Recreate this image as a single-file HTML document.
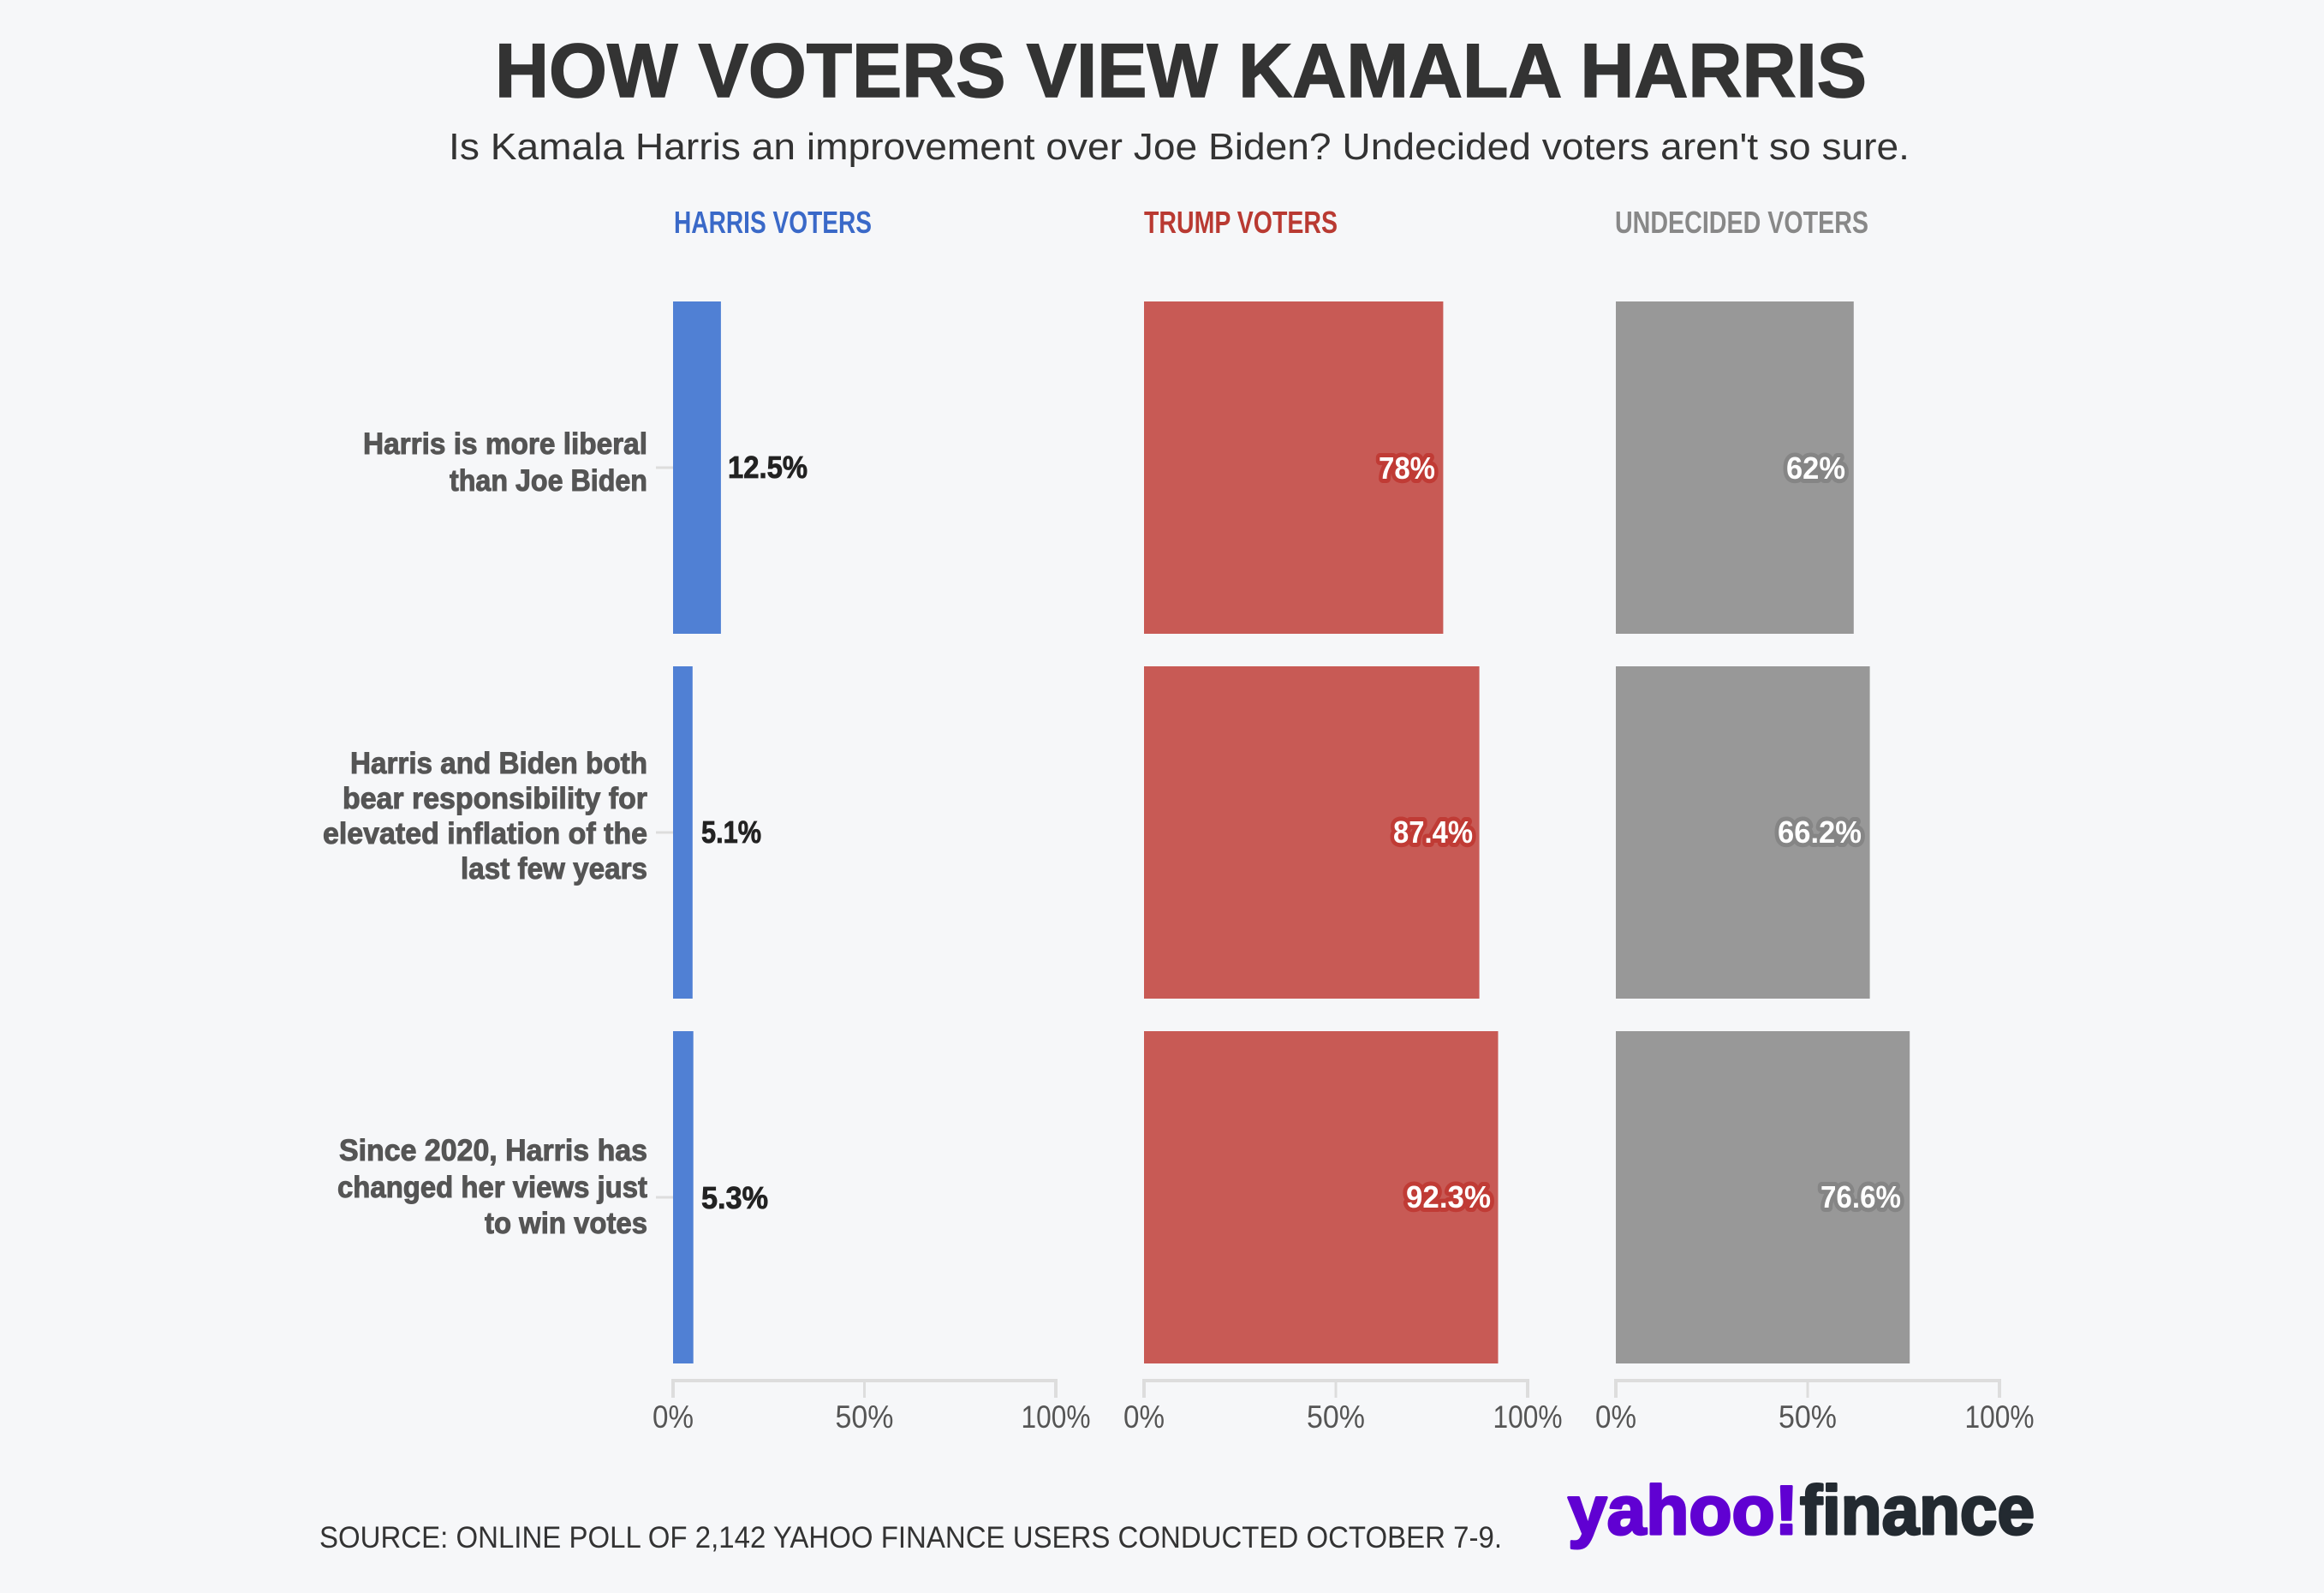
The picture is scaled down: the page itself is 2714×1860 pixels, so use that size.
<!DOCTYPE html>
<html>
<head>
<meta charset="utf-8">
<style>
  html, body { margin: 0; padding: 0; background: #f6f7f9; }
  svg { display: block; }
  text { font-family: "Liberation Sans", "DejaVu Sans", sans-serif; }
</style>
</head>
<body>
<svg width="2714" height="1860" viewBox="0 0 2714 1860" xmlns="http://www.w3.org/2000/svg">
  <rect x="0" y="0" width="2714" height="1860" fill="#f6f7f9"/>

  <!-- Title -->
  <text x="578" y="113" font-size="89" font-weight="bold" fill="#333333" stroke="#333333" stroke-width="1.5" textLength="1602" lengthAdjust="spacingAndGlyphs">HOW VOTERS VIEW KAMALA HARRIS</text>
  <text x="524" y="186" font-size="44" fill="#333333" textLength="1706" lengthAdjust="spacingAndGlyphs">Is Kamala Harris an improvement over Joe Biden? Undecided voters aren't so sure.</text>

  <!-- Column headers -->
  <text x="787" y="272" font-size="36" font-weight="bold" fill="#3a69c8" textLength="231" lengthAdjust="spacingAndGlyphs">HARRIS VOTERS</text>
  <text x="1336" y="272" font-size="36" font-weight="bold" fill="#b93a32" textLength="226" lengthAdjust="spacingAndGlyphs">TRUMP VOTERS</text>
  <text x="1886" y="272" font-size="36" font-weight="bold" fill="#888888" textLength="296" lengthAdjust="spacingAndGlyphs">UNDECIDED VOTERS</text>

  <!-- Category labels -->
  <g font-size="35" font-weight="bold" fill="#555555" stroke="#555555" stroke-width="1">
    <text x="424" y="530" textLength="332" lengthAdjust="spacingAndGlyphs">Harris is more liberal</text>
    <text x="525" y="573" textLength="231" lengthAdjust="spacingAndGlyphs">than Joe Biden</text>

    <text x="409" y="903" textLength="347" lengthAdjust="spacingAndGlyphs">Harris and Biden both</text>
    <text x="400" y="944" textLength="356" lengthAdjust="spacingAndGlyphs">bear responsibility for</text>
    <text x="377" y="985" textLength="379" lengthAdjust="spacingAndGlyphs">elevated inflation of the</text>
    <text x="538" y="1026" textLength="218" lengthAdjust="spacingAndGlyphs">last few years</text>

    <text x="396" y="1355" textLength="360" lengthAdjust="spacingAndGlyphs">Since 2020, Harris has</text>
    <text x="394" y="1398" textLength="362" lengthAdjust="spacingAndGlyphs">changed her views just</text>
    <text x="566" y="1440" textLength="190" lengthAdjust="spacingAndGlyphs">to win votes</text>
  </g>

  <!-- Category ticks -->
  <g stroke="#dddddd" stroke-width="3">
    <line x1="766" y1="546" x2="786" y2="546"/>
    <line x1="766" y1="972" x2="786" y2="972"/>
    <line x1="766" y1="1398" x2="786" y2="1398"/>
  </g>

  <!-- Harris bars -->
  <g fill="#5080d4">
    <rect x="786" y="352" width="55.9" height="388"/>
    <rect x="786" y="778" width="22.8" height="388"/>
    <rect x="786" y="1204" width="23.7" height="388"/>
  </g>
  <!-- Trump bars -->
  <g fill="#c85a55">
    <rect x="1336" y="352" width="349.4" height="388"/>
    <rect x="1336" y="778" width="391.6" height="388"/>
    <rect x="1336" y="1204" width="413.5" height="388"/>
  </g>
  <!-- Undecided bars -->
  <g fill="#989898">
    <rect x="1887" y="352" width="277.8" height="388"/>
    <rect x="1887" y="778" width="296.6" height="388"/>
    <rect x="1887" y="1204" width="343.2" height="388"/>
  </g>

  <!-- Harris value labels -->
  <g font-size="36" font-weight="bold" fill="#222222" stroke="#222222" stroke-width="0.8">
    <text x="850" y="558" textLength="93" lengthAdjust="spacingAndGlyphs">12.5%</text>
    <text x="819" y="984" textLength="70" lengthAdjust="spacingAndGlyphs">5.1%</text>
    <text x="819" y="1411" textLength="78" lengthAdjust="spacingAndGlyphs">5.3%</text>
  </g>

  <!-- Trump value labels (haloed) -->
  <g font-size="36" font-weight="bold" fill="#ffffff" stroke="#c03b35" stroke-width="10" stroke-linejoin="round" paint-order="stroke">
    <text x="1610" y="559" textLength="66" lengthAdjust="spacingAndGlyphs">78%</text>
    <text x="1627" y="984" textLength="93" lengthAdjust="spacingAndGlyphs">87.4%</text>
    <text x="1642" y="1410" textLength="99" lengthAdjust="spacingAndGlyphs">92.3%</text>
  </g>

  <!-- Undecided value labels (haloed) -->
  <g font-size="36" font-weight="bold" fill="#ffffff" stroke="#858585" stroke-width="10" stroke-linejoin="round" paint-order="stroke">
    <text x="2086" y="559" textLength="69" lengthAdjust="spacingAndGlyphs">62%</text>
    <text x="2076" y="984" textLength="98" lengthAdjust="spacingAndGlyphs">66.2%</text>
    <text x="2126" y="1410" textLength="94" lengthAdjust="spacingAndGlyphs">76.6%</text>
  </g>

  <!-- Axes -->
  <g fill="none" stroke="#dddddd">
    <path d="M786,1632 V1612 H1233 V1632" stroke-width="4"/>
    <line x1="1009.5" y1="1612" x2="1009.5" y2="1632" stroke-width="3"/>
    <path d="M1336,1632 V1612 H1784 V1632" stroke-width="4"/>
    <line x1="1560" y1="1612" x2="1560" y2="1632" stroke-width="3"/>
    <path d="M1887,1632 V1612 H2335 V1632" stroke-width="4"/>
    <line x1="2111" y1="1612" x2="2111" y2="1632" stroke-width="3"/>
  </g>
  <g font-size="37" fill="#555555" text-anchor="middle">
    <text x="786" y="1667" textLength="48" lengthAdjust="spacingAndGlyphs">0%</text>
    <text x="1009.5" y="1667" textLength="68" lengthAdjust="spacingAndGlyphs">50%</text>
    <text x="1233" y="1667" textLength="81" lengthAdjust="spacingAndGlyphs">100%</text>

    <text x="1336" y="1667" textLength="48" lengthAdjust="spacingAndGlyphs">0%</text>
    <text x="1560" y="1667" textLength="68" lengthAdjust="spacingAndGlyphs">50%</text>
    <text x="1784" y="1667" textLength="81" lengthAdjust="spacingAndGlyphs">100%</text>

    <text x="1887" y="1667" textLength="48" lengthAdjust="spacingAndGlyphs">0%</text>
    <text x="2111" y="1667" textLength="68" lengthAdjust="spacingAndGlyphs">50%</text>
    <text x="2335" y="1667" textLength="81" lengthAdjust="spacingAndGlyphs">100%</text>
  </g>

  <!-- Footer -->
  <text x="373" y="1807" font-size="35" fill="#333333" textLength="1381" lengthAdjust="spacingAndGlyphs">SOURCE: ONLINE POLL OF 2,142 YAHOO FINANCE USERS CONDUCTED OCTOBER 7-9.</text>

  <!-- Logo -->
  <text x="1831" y="1791" font-size="81" font-weight="bold" fill="#6001d2" stroke="#6001d2" stroke-width="3" stroke-linejoin="round" textLength="269" lengthAdjust="spacingAndGlyphs">yahoo!</text>
  <text x="2102" y="1791" font-size="81" font-weight="bold" fill="#232a31" stroke="#232a31" stroke-width="3" stroke-linejoin="round" textLength="274" lengthAdjust="spacingAndGlyphs">finance</text>
</svg>
</body>
</html>
